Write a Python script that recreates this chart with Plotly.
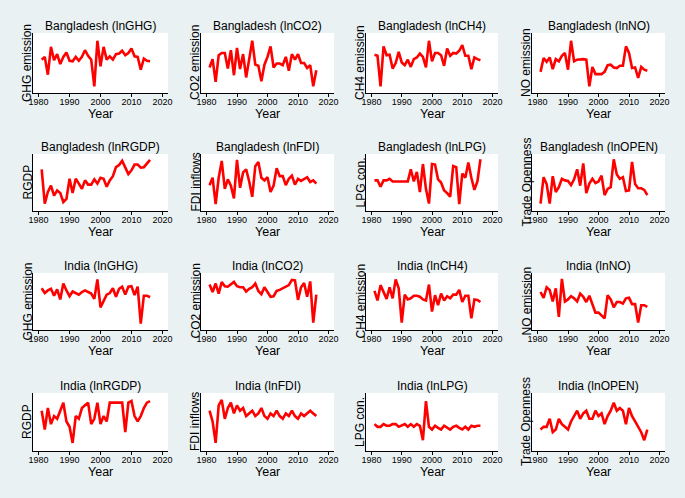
import plotly.graph_objects as go

years = list(range(1981, 2017))

bd_ghg = [55,60,28,78,54,65,47,60,68,53,52,60,53,60,72,62,55,7,89,43,78,55,61,55,65,66,71,63,67,75,61,60,37,57,53,52]
bd_co2 = [41,56,15,63,67,67,39,72,27,76,38,65,23,55,89,46,44,16,46,60,79,41,48,48,45,60,35,65,55,65,49,49,40,45,7,36]
bd_ch4 = [64,62,7,79,63,64,39,49,69,50,45,55,42,56,59,66,60,41,89,52,67,67,63,44,75,62,67,66,71,81,62,62,38,59,56,54]
bd_no = [33,58,51,59,38,56,52,62,67,37,89,52,55,56,56,55,7,42,29,29,29,33,45,46,41,40,44,44,79,67,40,41,22,42,37,35]
bd_rgdp = [74,9,31,43,24,34,29,12,18,56,29,56,47,37,53,45,45,55,47,58,56,41,53,61,78,82,90,77,65,72,83,83,77,78,86,92]
bd_fdi = [44,58,8,58,90,37,55,43,19,92,39,68,74,51,22,80,88,58,53,59,31,43,76,61,61,44,56,62,45,56,52,56,59,50,53,47]
bd_lpg = [53,53,41,53,53,56,51,51,51,51,51,51,74,51,69,31,84,37,9,84,83,55,49,34,29,22,80,78,8,66,58,87,58,35,51,93]
bd_open = [9,59,46,9,61,31,40,56,53,52,44,55,74,43,85,29,47,56,48,51,62,25,37,40,93,64,56,59,33,34,88,46,38,38,35,25]
in_ghg = [74,65,70,73,60,72,53,83,70,59,68,65,62,67,70,67,64,54,91,38,51,62,65,74,58,73,77,62,77,78,61,77,7,60,60,57]
in_co2 = [81,67,83,64,86,78,77,81,86,78,76,76,68,73,76,83,69,63,76,67,58,59,69,71,74,77,80,90,89,52,76,84,58,87,9,62]
in_ch4 = [69,51,80,67,54,76,55,91,74,9,62,53,55,60,60,58,53,51,81,30,61,42,64,51,59,55,62,62,71,48,60,60,17,53,52,48]
in_no = [67,56,76,71,49,74,20,92,49,53,59,55,49,64,58,48,60,45,28,28,22,17,61,53,38,48,48,45,55,56,44,44,9,42,42,39]
in_rgdp = [70,35,75,45,60,55,70,85,50,40,10,60,55,75,80,85,45,55,85,45,60,50,85,85,85,85,85,30,85,88,60,50,60,75,85,88]
in_fdi = [70,50,10,80,90,55,75,85,65,80,70,75,60,65,70,60,65,75,60,55,65,60,70,60,55,65,60,70,60,55,65,60,65,70,65,60]
in_lpg = [45,40,40,45,42,42,45,45,40,42,45,40,45,40,45,42,15,88,40,35,42,38,35,42,38,35,40,42,38,35,40,35,42,40,42,42]
in_open = [35,40,40,55,30,35,55,45,40,35,50,60,70,55,65,70,55,55,70,60,65,45,60,70,85,70,75,70,45,75,60,50,40,30,15,35]

series = [bd_ghg, bd_co2, bd_ch4, bd_no, bd_rgdp, bd_fdi, bd_lpg, bd_open,
          in_ghg, in_co2, in_ch4, in_no, in_rgdp, in_fdi, in_lpg, in_open]
titles = ["Bangladesh (lnGHG)", "Bangladesh (lnCO2)", "Bangladesh (lnCH4)", "Bangladesh (lnNO)",
          "Bangladesh (lnRGDP)", "Bangladesh (lnFDI)", "Bangladesh (lnLPG)", "Bangladesh (lnOPEN)",
          "India (lnGHG)", "India (lnCO2)", "India (lnCH4)", "India (lnNO)",
          "India (lnRGDP)", "India (lnFDI)", "India (lnLPG)", "India (lnOPEN)"]
ylabels = ["GHG emission", "CO2 emission", "CH4 emission", "NO emission",
           "RGDP", "FDI inflows", "LPG con.", "Trade Openness"] * 2
xlabel = "Year"
xticks = [1980, 1990, 2000, 2010, 2020]

W, H = 685, 498
col_px = [(33, 168), (201, 334), (366, 498), (532, 665)]
row_px = [(33, 93), (154, 211), (273, 330), (393, 451)]

FONT = "Arial, Liberation Sans, sans-serif"
fig = go.Figure()
layout = dict(
    width=W, height=H,
    paper_bgcolor="#EAF1F3", plot_bgcolor="white",
    margin=dict(l=0, r=0, t=0, b=0, autoexpand=False),
    showlegend=False,
    font=dict(family=FONT, color="black"),
    annotations=[],
)

def ann(text, x, y, **kw):
    d = dict(text=text, x=x, y=y, xref="paper", yref="paper", showarrow=False,
             font=dict(size=12, family=FONT, color="black"))
    d.update(kw)
    layout["annotations"].append(d)

for i, (vals, title, ylab) in enumerate(zip(series, titles, ylabels)):
    r, c = divmod(i, 4)
    k = "" if i == 0 else str(i + 1)
    x0, x1 = col_px[c]
    y0, y1 = row_px[r]
    fig.add_trace(go.Scatter(x=years, y=vals, mode="lines",
                             line=dict(color="#FF0000", width=2.6),
                             xaxis="x" + k, yaxis="y" + k, hoverinfo="skip"))
    layout["xaxis" + k] = dict(
        domain=[x0 / W, x1 / W], anchor="y" + k, range=[1978.2, 2021.8],
        tickvals=xticks, ticks="outside", ticklen=3, tickwidth=1, tickcolor="black",
        showline=True, linecolor="black", linewidth=1, showgrid=False, zeroline=False,
        tickfont=dict(size=9, family=FONT, color="black"), automargin=False,
        ticklabelstandoff=-3,
    )
    layout["yaxis" + k] = dict(
        domain=[1 - y1 / H, 1 - y0 / H], anchor="x" + k, range=[-5, 103],
        showticklabels=False, ticks="", showline=True, linecolor="black", linewidth=1,
        showgrid=False, zeroline=False, automargin=False,
    )
    # panel title
    ann(title, (x0 + x1) / 2 / W, 1 - y0 / H, xanchor="center", yanchor="bottom", yshift=-2)
    # x title
    ann(xlabel, (x0 + x1) / 2 / W, 1 - (y1 + 21) / H, xanchor="center", yanchor="middle",
        font=dict(size=12.5, family=FONT, color="black"))
    # y title
    ann(ylab, (x0 - 6) / W, 1 - (y0 + y1) / 2 / H, xanchor="center", yanchor="middle",
        textangle=-90)

fig.update_layout(**layout)
fig.write_html("out.html", config={"displayModeBar": False},
               post_script="document.body.style.margin='0px';")
